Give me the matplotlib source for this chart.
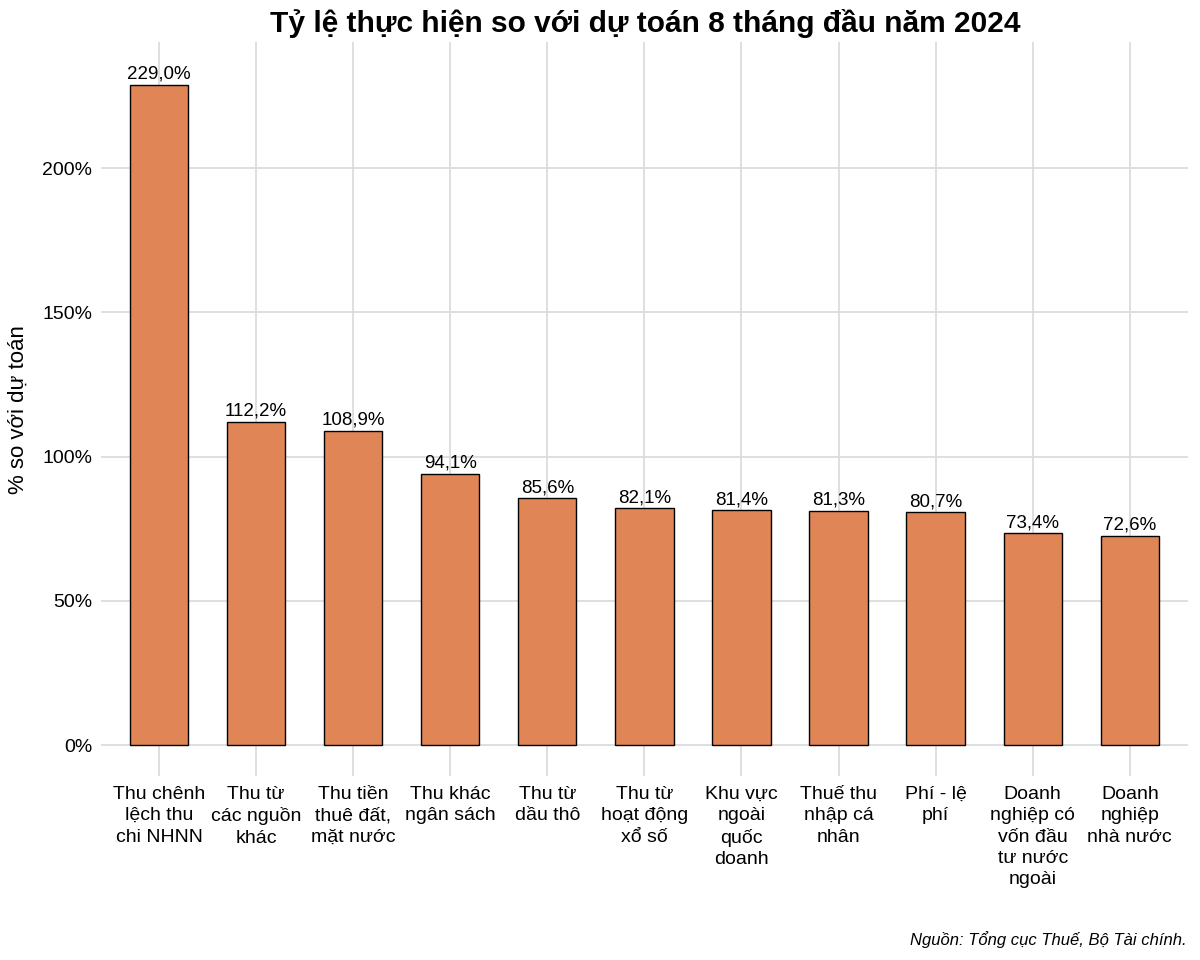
import matplotlib
matplotlib.use("Agg")
import matplotlib.pyplot as plt
from matplotlib.ticker import FuncFormatter

plt.rcParams['font.family'] = ['Liberation Sans', 'DejaVu Sans']

categories = ["Thu chênh\nlệch thu\nchi NHNN", "Thu từ\ncác nguồn\nkhác",
              "Thu tiền\nthuê đất,\nmặt nước", "Thu khác\nngân sách",
              "Thu từ\ndầu thô", "Thu từ\nhoạt động\nxổ số",
              "Khu vực\nngoài\nquốc\ndoanh", "Thuế thu\nnhập cá\nnhân",
              "Phí - lệ\nphí", "Doanh\nnghiệp có\nvốn đầu\ntư nước\nngoài",
              "Doanh\nnghiệp\nnhà nước"]
values = [229.0, 112.2, 108.9, 94.1, 85.6, 82.1, 81.4, 81.3, 80.7, 73.4, 72.6]
yticks = [0, 50, 100, 150, 200]

fig = plt.figure(figsize=(12, 9.6), dpi=100)
ax = fig.add_axes([0.084, 0.1917, 0.906, 0.7643])

x = list(range(1, len(values) + 1))
ax.bar(x, values, width=0.6, color='#E08656', edgecolor='black', linewidth=1.0, zorder=3)
for xi, v in zip(x, values):
    ax.annotate(f"{v:.1f}%".replace('.', ','), (xi, v), xytext=(0, 1.5),
                textcoords='offset points', ha='center', va='bottom',
                fontsize=13.5, zorder=4)

ax.set_xlim(0.4, len(values) + 0.6)
ax.set_ylim(-10.7, 243.7)
ax.set_xticks(x)
ax.set_xticklabels(categories, fontsize=14, linespacing=1.34)
ax.set_yticks(yticks)
ax.yaxis.set_major_formatter(FuncFormatter(lambda v, p: f"{v:.0f}%"))
ax.tick_params(axis='y', labelsize=14, length=0, pad=6)
ax.tick_params(axis='x', length=0, pad=7)
ax.grid(True, color='#dcdcdc', linewidth=1.3, zorder=0)
for s in ax.spines.values():
    s.set_visible(False)

ax.set_ylabel("% so với dự toán", fontsize=16, labelpad=10)
fig.text(0.538, 0.975, "Tỷ lệ thực hiện so với dự toán 8 tháng đầu năm 2024",
         ha='center', va='center', fontsize=21.5, fontweight='bold')
fig.text(0.989, 0.021, "Nguồn: Tổng cục Thuế, Bộ Tài chính.", ha='right', va='center',
         fontsize=12, style='italic')

fig.savefig("out.png", dpi=100)
